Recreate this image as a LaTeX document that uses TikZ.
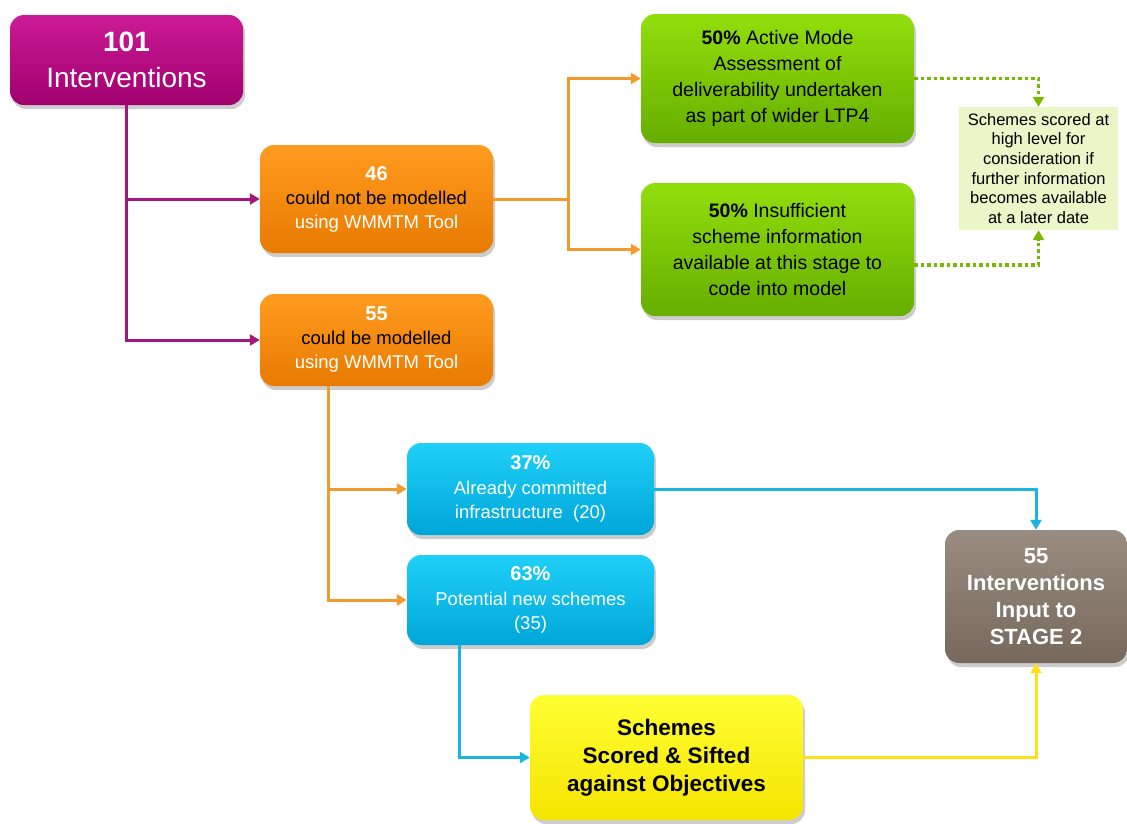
\documentclass[tikz,border=0pt]{standalone}
\usepackage{fontspec}
\setmainfont{Liberation Sans}
\usetikzlibrary{arrows.meta,shadows}

\definecolor{magTop}{HTML}{CC1A96}
\definecolor{magBot}{HTML}{A0006E}
\definecolor{magLine}{HTML}{A3167C}
\definecolor{orTop}{HTML}{FF9C1F}
\definecolor{orBot}{HTML}{E87A00}
\definecolor{orLine}{HTML}{F39A2E}
\definecolor{grTop}{HTML}{92DE0C}
\definecolor{grBot}{HTML}{66AE00}
\definecolor{grLine}{HTML}{7AB800}
\definecolor{noteFill}{HTML}{EAF6C8}
\definecolor{blTop}{HTML}{1FD0F8}
\definecolor{blBot}{HTML}{00A6D8}
\definecolor{blLine}{HTML}{1BB3E0}
\definecolor{brTop}{HTML}{998D81}
\definecolor{brBot}{HTML}{76685C}
\definecolor{yeTop}{HTML}{FFFF33}
\definecolor{yeBot}{HTML}{F5E400}
\definecolor{yeLine}{HTML}{FFE01A}

\tikzset{
  box/.style={rounded corners=14pt, align=center, inner sep=2pt,
    drop shadow={shadow xshift=2pt, shadow yshift=-4pt, opacity=0.4}},
  magbox/.style={box, top color=magTop, bottom color=magBot, text=white,
    font=\fontsize{28}{36}\selectfont},
  orbox/.style={box, top color=orTop, bottom color=orBot, text=white,
    font=\fontsize{18.5}{24}\selectfont},
  grbox/.style={box, top color=grTop, bottom color=grBot, text=black,
    font=\fontsize{19.5}{26}\selectfont},
  blbox/.style={box, top color=blTop, bottom color=blBot, text=white,
    font=\fontsize{18.5}{24.5}\selectfont},
  brbox/.style={box, top color=brTop, bottom color=brBot, text=white,
    font=\fontsize{22}{27}\selectfont\bfseries},
  yebox/.style={box, top color=yeTop, bottom color=yeBot, text=black,
    font=\fontsize{22.5}{28}\selectfont\bfseries},
  notebox/.style={fill=noteFill, align=center, inner sep=2pt, text=black,
    font=\fontsize{16.5}{19.7}\selectfont},
  link/.style={line width=3pt, -{Triangle[width=11pt,length=10pt]}},
  dotlink/.style={line width=3.5pt, color=grLine, dash pattern=on 3.5pt off 3pt,
    -{Triangle[width=11pt,length=10pt]}},
}

\begin{document}
\begin{tikzpicture}[x=1pt,y=-1pt]
\useasboundingbox (0,0) rectangle (1127,823);

% boxes
\node[magbox, minimum width=233pt, minimum height=90pt] (n101) at (126.5,60)
  {\textbf{101}\\Interventions};
\node[orbox, minimum width=233pt, minimum height=108pt] (n46) at (376.5,199)
  {\textbf{\fontsize{20}{24}\selectfont 46}\\\textcolor{black}{could not be modelled}\\using WMMTM Tool};
\node[orbox, minimum width=233pt, minimum height=92pt] (n55) at (376.5,340)
  {\textbf{\fontsize{20}{24}\selectfont 55}\\\textcolor{black}{could be modelled}\\using WMMTM Tool};
\node[grbox, minimum width=273pt, minimum height=129pt] (g1) at (777.5,78.5)
  {\textbf{50\%} Active Mode\\Assessment of\\deliverability undertaken\\as part of wider LTP4};
\node[grbox, minimum width=273pt, minimum height=133pt] (g2) at (777.5,249.5)
  {\textbf{50\%} Insufficient\\scheme information\\available at this stage to\\code into model};
\node[notebox, minimum width=159pt, minimum height=123pt] (note) at (1038.5,168.5)
  {Schemes scored at\\high level for\\consideration if\\further information\\becomes available\\at a later date};
\node[blbox, minimum width=247pt, minimum height=92pt] (b1) at (530.5,489)
  {\textbf{\fontsize{20}{24}\selectfont 37\%}\\Already committed\\infrastructure\ \ (20)};
\node[blbox, minimum width=247pt, minimum height=90pt] (b2) at (530.5,600)
  {\textbf{\fontsize{20}{24}\selectfont 63\%}\\Potential new schemes\\(35)};
\node[brbox, minimum width=182pt, minimum height=133pt] (stage) at (1036,596.5)
  {55\\Interventions\\Input to\\STAGE 2};
\node[yebox, minimum width=273pt, minimum height=125pt] (sift) at (666.5,757.5)
  {Schemes\\Scored \& Sifted\\against Objectives};

% magenta split
\draw[link, magLine] (n101.south) |- (n46.west);
\draw[link, magLine] (n101.south) |- (n55.west);

% orange splits
\coordinate (oj) at ([xshift=75pt]n46.east);
\draw[line width=3pt, orLine] (n46.east) -- (oj);
\draw[link, orLine] (oj) |- (g1.west);
\draw[link, orLine] (oj) |- (g2.west);
\coordinate (ok) at ([xshift=-48.5pt]n55.south);
\draw[link, orLine] (ok) |- (b1.west);
\draw[link, orLine] (ok) |- (b2.west);

% dotted links to the note
\draw[dotlink] (g1.east) -| (note.north);
\draw[dotlink] ([yshift=-15.5pt]g2.east) -| (note.south);

% blue links
\draw[link, blLine] (b1.east) -| (stage.north);
\draw[link, blLine] ([xshift=-71.5pt]b2.south) |- (sift.west);

% yellow link
\draw[link, yeLine] (sift.east) -| (stage.south);
\end{tikzpicture}
\end{document}
